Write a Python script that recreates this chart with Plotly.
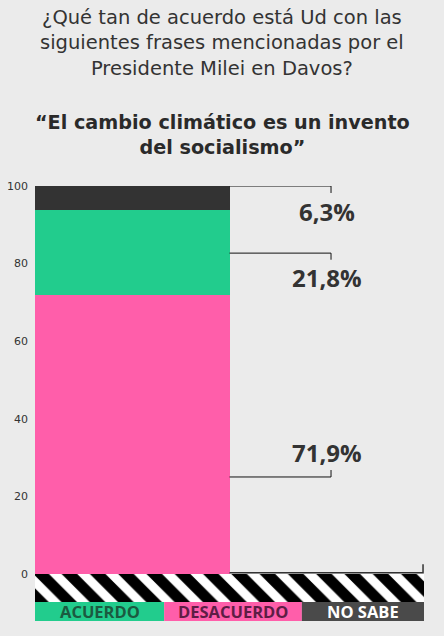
import plotly.graph_objects as go

# ---- data ----
categories = ["ACUERDO", "DESACUERDO", "NO SABE"]
values = [21.8, 71.9, 6.3]          # percentages
value_labels = ["21,8%", "71,9%", "6,3%"]
colors = {"ACUERDO": "#22CC8D", "DESACUERDO": "#FF5EAA", "NO SABE": "#333333"}
stack_order = ["DESACUERDO", "ACUERDO", "NO SABE"]
y_ticks = [0, 20, 40, 60, 80, 100]

title_txt = ("¿Qué tan de acuerdo está Ud con las<br>"
             "siguientes frases mencionadas por el<br>"
             "Presidente Milei en Davos?")
subtitle_txt = "<b>“El cambio climático es un invento<br>del socialismo”</b>"

val = dict(zip(categories, values))
lab = dict(zip(categories, value_labels))

HATCH = 7.22  # depth of decorative hatched band below zero (axis units)

fig = go.Figure()
base = 0.0
for c in stack_order:
    fig.add_trace(go.Bar(x=[0], y=[val[c]], base=[base], width=1, marker_color=colors[c],
                         marker_line_width=0, name=c, showlegend=False, hoverinfo="skip"))
    base += val[c]

# hatched band beneath the chart
fig.add_trace(go.Bar(x=[0.5], y=[HATCH], base=[-HATCH], width=2,
                     marker=dict(color="black", line_width=0,
                                 pattern=dict(shape="\\", fgcolor="white", bgcolor="black",
                                              size=20, solidity=0.45, fillmode="replace")),
                     showlegend=False, hoverinfo="skip"))

FONT = "'Open Sans', sans-serif"
TFONT = "'DejaVu Sans', sans-serif"
DARK = "#333333"
L, R, T, B = 35, 20, 186, 15
W, H = 444, 636

fig.update_layout(
    width=W, height=H,
    margin=dict(l=L, r=R, t=T, b=B, autoexpand=False),
    paper_bgcolor="#EBEBEB", plot_bgcolor="rgba(0,0,0,0)",
    barmode="overlay", bargap=0, showlegend=False,
    font=dict(family=FONT, color=DARK),
    xaxis=dict(range=[-0.5, 1.5], visible=False, domain=[0, 1], automargin=False),
    yaxis=dict(range=[-HATCH, 100], domain=[0.0437, 1], tickvals=y_ticks, showgrid=False,
               zeroline=False, showline=False, ticks="",
               tickfont=dict(size=11, color=DARK, family=TFONT),
               ticklabelstandoff=6, automargin=False),
)

# baseline axis line
fig.add_shape(type="path", xref="x", yref="y",
              path="M 0.5 0.3 L 1.495 0.3 L 1.495 2.5", line=dict(color=DARK, width=1.5))

# brackets
bx0, bx1 = 0.5, 1.022
brackets = [(100, 98.2), (82.7, 81.0), (25.0, 26.8)]
for yline, ytick in brackets:
    fig.add_shape(type="path", xref="x", yref="y",
                  path=f"M {bx0} {yline} L {bx1} {yline} L {bx1} {ytick}",
                  line=dict(color="#111111", width=1))

label_pos = {"NO SABE": 93.3, "ACUERDO": 76.5, "DESACUERDO": 31.4}
for c in categories:
    fig.add_annotation(x=1.0, y=label_pos[c], xref="x", yref="y", text=f"<b>{lab[c]}</b>",
                       xanchor="center", yanchor="middle",
                       showarrow=False, font=dict(size=24, color=DARK, family=FONT))

# legend boxes
legend_bounds = [(0.0, 0.332), (0.332, 0.686), (0.686, 1.0)]
legend_fill = ["#22CC8D", "#FF5EAA", "#4A4A4A"]
legend_text_colors = ["#1B5A40", "#5E1D45", "#FFFFFF"]
for c, (a, b), fc, tc in zip(categories, legend_bounds, legend_fill, legend_text_colors):
    fig.add_shape(type="rect", xref="paper", yref="paper", x0=a, x1=b, y0=0, y1=0.0437,
                  fillcolor=fc, line_width=0)
    fig.add_annotation(x=(a + b) / 2, y=0.0218, xref="paper", yref="paper",
                       xanchor="center", yanchor="middle",
                       text=f"<b>{c}</b>", showarrow=False,
                       font=dict(size=16.5, color=tc, family=FONT))

# titles centred on page x=222px
plot_h = H - T - B
xc = (222 - L) / (W - L - R)
def page_y(py):
    return (H - B - py) / plot_h

fig.add_annotation(x=xc, y=page_y(43.5), xref="paper", yref="paper", xanchor="center",
                   yanchor="middle", text=title_txt, showarrow=False, align="center",
                   font=dict(size=19.5, color=DARK, family=TFONT))
fig.add_annotation(x=xc, y=page_y(135), xref="paper", yref="paper", xanchor="center",
                   yanchor="middle", text=subtitle_txt, showarrow=False, align="center",
                   font=dict(size=19.2, color="#2A2A2A", family=TFONT))

fig.write_html("out.html")
